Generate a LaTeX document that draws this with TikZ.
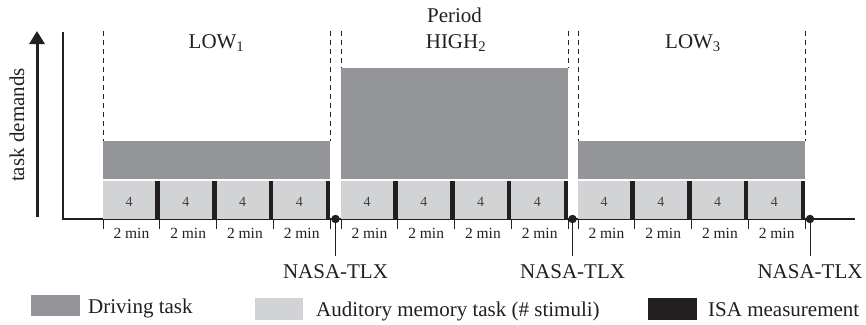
\documentclass[tikz,border=0pt]{standalone}
\usepackage{fontspec}
\setmainfont{Liberation Serif}
\usetikzlibrary{arrows.meta}
\definecolor{drv}{HTML}{939598}
\definecolor{aud}{HTML}{D1D3D4}
\definecolor{isa}{HTML}{231F20}
\tikzset{
  big/.style={font=\fontsize{21}{25}\selectfont, text=isa, inner sep=0pt},
  mid/.style={font=\fontsize{15.5}{18}\selectfont, text=isa, inner sep=0pt},
  small/.style={font=\fontsize{14}{16}\selectfont, text=isa!85, inner sep=0pt},
  tickline/.style={draw=isa, line width=0.8pt},
  dashline/.style={draw=isa, line width=0.8pt, dash pattern=on 5pt off 4pt},
  tlxdot/.style={circle, fill=isa, inner sep=0pt, minimum size=8.5pt},
}
\begin{document}
\begin{tikzpicture}[x=1pt,y=-1pt]
\useasboundingbox (0,0) rectangle (866,324);
% axis label and arrow
\node[big, rotate=90] (ylab) at (17,125) {task demands};
\coordinate (arrB) at (37,217);
\coordinate (arrT) at (37,31);
\draw[isa, line width=3pt, -{Triangle[width=15pt,length=13pt]}] (arrB) -- (arrT);
% axes
\coordinate (axT) at (63,32);
\coordinate (axO) at (63,219);
\coordinate (axR) at (855,219);
\draw[isa, line width=1.4pt] (axT) -- (axO) -- (axR);
% periods
\foreach \i/\px/\ty in {1/103/141, 2/341/68, 3/578/141} {
  \fill[drv] (\px,\ty) rectangle ({\px+227},179);
  \draw[dashline] (\px,31) -- (\px,\ty);
  \draw[dashline] ({\px+227},31) -- ({\px+227},\ty);
  \foreach \k in {0,...,3} {
    \pgfmathsetmacro\sx{\px+\k*56.75}
    \fill[aud] (\sx,181) rectangle ({\sx+52.25},219);
    \fill[isa] ({\sx+52.25},181) rectangle ({\sx+56.75},219);
    \node[small, anchor=base] (n\i\k) at ({\sx+26.1},206) {4};
    \node[mid, anchor=base] (m\i\k) at ({\sx+28.4},238) {2 min};
    \draw[tickline] (\sx,219) -- (\sx,229);
  }
  \draw[tickline] ({\px+227},219) -- ({\px+227},229);
}
% period labels
\node[big, anchor=base] (per) at (454.5,22) {Period};
\node[big, anchor=base] (p1) at (216.5,48) {LOW\textsubscript{1}};
\node[big, anchor=base] (p2) at (456,48) {HIGH\textsubscript{2}};
\node[big, anchor=base] (p3) at (693,48) {LOW\textsubscript{3}};
% NASA-TLX
\foreach \j/\dx in {1/335.5, 2/572.5, 3/810} {
  \node[tlxdot] (tlx\j) at (\dx,219) {};
  \node[big, anchor=base] (tlxl\j) at (\dx,278) {NASA-TLX};
  \draw[isa, line width=1pt] (tlx\j.center) -- ([yshift=8pt]tlxl\j.north);
}
% legend
\fill[drv] (31,295) rectangle (80,316);
\node[big, anchor=base west] (l1) at (88,313) {Driving task};
\fill[aud] (255,298) rectangle (303,320);
\node[big, anchor=base west] (l2) at (316,316) {Auditory memory task (\# stimuli)};
\fill[isa] (648,298) rectangle (697,320);
\node[big, anchor=base west] (l3) at (708,316) {ISA measurement};
\end{tikzpicture}
\end{document}
